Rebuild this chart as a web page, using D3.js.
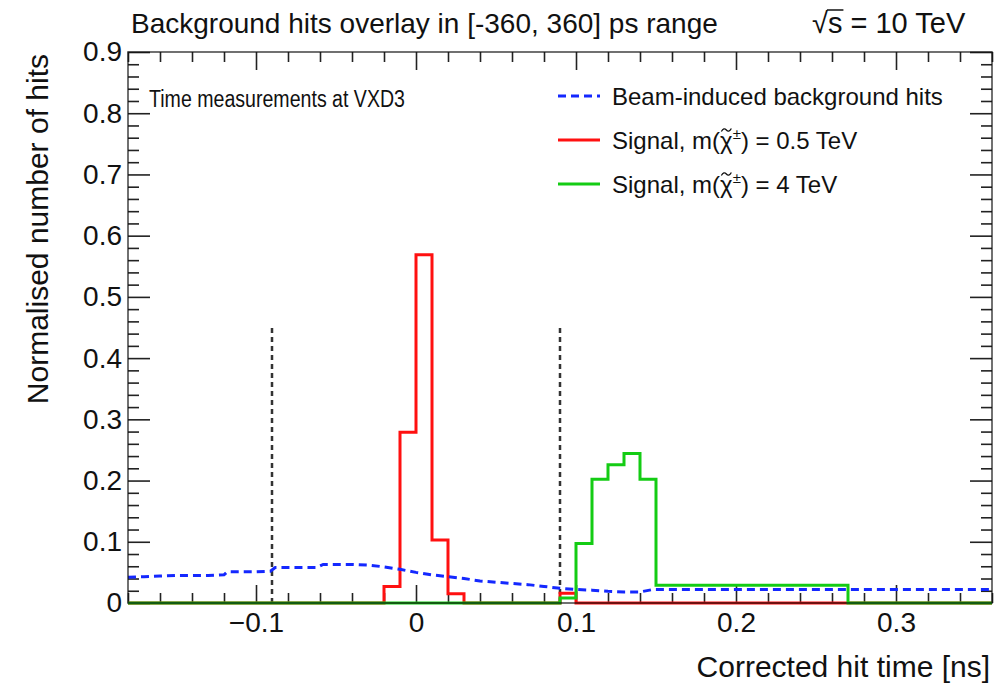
<!DOCTYPE html>
<html>
<head>
<meta charset="utf-8">
<script src="https://cdn.jsdelivr.net/npm/d3@7"></script>
<style>
  body { margin: 0; background: #fff; }
  text { font-family: "Liberation Sans", Arial, Helvetica, sans-serif; fill: #111; }
</style>
</head>
<body>
<div id="chart"></div>
<script>
// histogram bin edges (ns) shared by both signal samples
const binEdges = [-0.18, -0.02, -0.01, 0, 0.01, 0.02, 0.03, 0.09, 0.10, 0.11, 0.12, 0.13, 0.14, 0.15, 0.27, 0.36];
const signalLight = [0, 0.027, 0.279, 0.569, 0.103, 0.015, 0, 0.016, 0, 0, 0, 0, 0, 0, 0];   // m = 0.5 TeV
const signalHeavy = [0, 0, 0, 0, 0, 0, 0, 0.008, 0.097, 0.202, 0.226, 0.244, 0.202, 0.029, 0]; // m = 4 TeV

// beam-induced background
const bgTime = [-0.18, -0.17, -0.16, -0.15, -0.14, -0.13, -0.12, -0.118, -0.10, -0.091, -0.088, -0.07, -0.062, -0.058, -0.04,
                -0.03, -0.02, -0.01, 0, 0.01, 0.02, 0.03, 0.04, 0.05, 0.06, 0.07, 0.08, 0.09, 0.10, 0.11, 0.12, 0.13, 0.14, 0.148, 0.20, 0.30, 0.36];
const bgHits = [0.042, 0.043, 0.044, 0.045, 0.045, 0.045, 0.046, 0.051, 0.051, 0.052, 0.058, 0.058, 0.058, 0.063, 0.063,
                0.062, 0.059, 0.055, 0.050, 0.046, 0.043, 0.040, 0.036, 0.034, 0.032, 0.030, 0.027, 0.024, 0.022, 0.021, 0.019, 0.018, 0.018, 0.022, 0.022, 0.022, 0.022];

const cutLines = [-0.09, 0.09];
const cutHeight = 0.45;

const xTickValues = [-0.1, 0, 0.1, 0.2, 0.3];
const xTickLabels = ["\u22120.1", "0", "0.1", "0.2", "0.3"];
const yTickValues = [0, 0.1, 0.2, 0.3, 0.4, 0.5, 0.6, 0.7, 0.8, 0.9];
const yTickLabels = ["0", "0.1", "0.2", "0.3", "0.4", "0.5", "0.6", "0.7", "0.8", "0.9"];

const W = 999, H = 685;
const margin = { top: 52, right: 7, bottom: 82, left: 128 };

const svg = d3.select("#chart").append("svg")
  .attr("width", W).attr("height", H);

const x = d3.scaleLinear().domain([-0.18, 0.36]).range([margin.left, W - margin.right]);
const y = d3.scaleLinear().domain([0, 0.9]).range([H - margin.bottom, margin.top]);

const isMajor = v => Math.abs(v * 10 - Math.round(v * 10)) < 1e-6;
const xMinor = d3.range(-9, 19).map(i => i * 0.02).filter(v => !isMajor(v));
const yMinor = d3.range(0, 46).map(i => i * 0.02).filter(v => !isMajor(v));

function styleAxis(g, size) {
  g.select(".domain").remove();
  g.selectAll(".tick line").attr("stroke", "#222").attr("stroke-width", 1.6);
  g.attr("font-size", size).attr("font-family", '"Liberation Sans", Arial, sans-serif');
  g.selectAll("text").attr("fill", "#111");
}

// bottom + top
svg.append("g").attr("transform", `translate(0,${y(0)})`)
  .call(d3.axisBottom(x).tickValues(xTickValues).tickSize(-18).tickPadding(9).tickFormat((d, i) => xTickLabels[i]))
  .call(g => styleAxis(g, 28));
svg.append("g").attr("transform", `translate(0,${y(0)})`)
  .call(d3.axisBottom(x).tickValues(xMinor).tickSize(-10).tickFormat(""))
  .call(g => styleAxis(g, 28));
svg.append("g").attr("transform", `translate(0,${y(0.9)})`)
  .call(d3.axisTop(x).tickValues(xTickValues).tickSize(-18).tickFormat(""))
  .call(g => styleAxis(g, 28));
svg.append("g").attr("transform", `translate(0,${y(0.9)})`)
  .call(d3.axisTop(x).tickValues(xMinor).tickSize(-10).tickFormat(""))
  .call(g => styleAxis(g, 28));

// left + right
svg.append("g").attr("transform", `translate(${x(-0.18)},0)`)
  .call(d3.axisLeft(y).tickValues(yTickValues).tickSize(-22).tickPadding(6).tickFormat((d, i) => yTickLabels[i]))
  .call(g => styleAxis(g, 28));
svg.append("g").attr("transform", `translate(${x(-0.18)},0)`)
  .call(d3.axisLeft(y).tickValues(yMinor).tickSize(-11).tickFormat(""))
  .call(g => styleAxis(g, 28));
svg.append("g").attr("transform", `translate(${x(0.36)},0)`)
  .call(d3.axisRight(y).tickValues(yTickValues).tickSize(-22).tickFormat(""))
  .call(g => styleAxis(g, 28));
svg.append("g").attr("transform", `translate(${x(0.36)},0)`)
  .call(d3.axisRight(y).tickValues(yMinor).tickSize(-11).tickFormat(""))
  .call(g => styleAxis(g, 28));

// timing window
svg.selectAll(".cut").data(cutLines).enter().append("line")
  .attr("class", "cut")
  .attr("x1", d => x(d)).attr("x2", d => x(d))
  .attr("y1", y(0)).attr("y2", y(cutHeight))
  .attr("stroke", "#333").attr("stroke-width", 2.5).attr("stroke-dasharray", "5,4");

function stepPath(values) {
  let p = `M${x(binEdges[0])},${y(values[0])}`;
  values.forEach((v, i) => {
    p += `V${y(v)}H${x(binEdges[i + 1])}`;
  });
  return p;
}

svg.append("path").attr("d", stepPath(signalLight))
  .attr("fill", "none").attr("stroke", "#ff1010").attr("stroke-width", 3);
svg.append("path").attr("d", stepPath(signalHeavy))
  .attr("fill", "none").attr("stroke", "#14cc14").attr("stroke-width", 3);

const bgLine = d3.line().x((d, i) => x(bgTime[i])).y(d => y(d));
svg.append("path").attr("d", bgLine(bgHits))
  .attr("fill", "none").attr("stroke", "#1428ff").attr("stroke-width", 3)
  .attr("stroke-dasharray", "8,5");

// frame
svg.append("rect")
  .attr("x", x(-0.18)).attr("y", y(0.9))
  .attr("width", x(0.36) - x(-0.18)).attr("height", y(0) - y(0.9))
  .attr("fill", "none").attr("stroke", "#111").attr("stroke-width", 1.6).attr("stroke-opacity", 0.75);

// titles
svg.append("text").attr("x", 131).attr("y", 33).attr("font-size", 28)
  .text("Background hits overlay in [-360, 360] ps range");

const sq = svg.append("text").attr("x", 812).attr("y", 33).attr("font-size", 29);
const sqRoot = sq.append("tspan").text("\u221A");
const sqS = sq.append("tspan").text("s");
sq.append("tspan").text(" = 10 TeV");
{
  const rw = sqRoot.node().getComputedTextLength();
  const sw = sqS.node().getComputedTextLength();
  svg.append("line")
    .attr("x1", 812 + rw - 1).attr("x2", 812 + rw + sw + 1)
    .attr("y1", 33 - 23).attr("y2", 33 - 23)
    .attr("stroke", "#111").attr("stroke-width", 1.5);
}

svg.append("text")
  .attr("x", x(0.36) - 2).attr("y", 677)
  .attr("text-anchor", "end").attr("font-size", 30)
  .text("Corrected hit time [ns]");
svg.append("text")
  .attr("transform", `translate(48,${y(0.9) + 2}) rotate(-90)`)
  .attr("text-anchor", "end").attr("font-size", 30)
  .text("Normalised number of hits");

// the reference uses a condensed face here
svg.append("text").attr("x", 149).attr("y", 107)
  .attr("font-size", 23)
  .attr("textLength", 256).attr("lengthAdjust", "spacingAndGlyphs")
  .text("Time measurements at VXD3");

// legend
const legend = [
  { label: "Beam-induced background hits", color: "#1428ff", dash: "8,5" },
  { label: "0.5 TeV", color: "#ff1010", dash: null },
  { label: "4 TeV", color: "#14cc14", dash: null }
];
const lg = svg.append("g").selectAll("g").data(legend).enter().append("g")
  .attr("transform", (d, i) => `translate(0,${96 + i * 44})`);
lg.append("line").attr("x1", 558).attr("x2", 600).attr("y1", 0).attr("y2", 0)
  .attr("stroke", d => d.color).attr("stroke-width", 3)
  .attr("stroke-dasharray", d => d.dash);
lg.each(function(d, i) {
  const row = d3.select(this);
  const t = row.append("text").attr("x", 612).attr("y", 9).attr("font-size", 24);
  if (i === 0) { t.text(d.label); return; }
  const pre = t.append("tspan").text("Signal, m(");
  const chi = t.append("tspan").text("\u03C7");
  t.append("tspan").attr("font-size", 15).attr("dy", -10).text("\u00B1");
  t.append("tspan").attr("dy", 10).text(") = " + d.label);
  // tilde over chi
  const cx = 612 + pre.node().getComputedTextLength() + chi.node().getComputedTextLength() / 2;
  const ty = -10;
  row.append("path")
    .attr("d", `M${cx - 5},${ty + 1.5} Q${cx - 2.5},${ty - 3} ${cx},${ty} T${cx + 5},${ty - 1.5}`)
    .attr("fill", "none").attr("stroke", "#111").attr("stroke-width", 1.3);
});
</script>
</body>
</html>
